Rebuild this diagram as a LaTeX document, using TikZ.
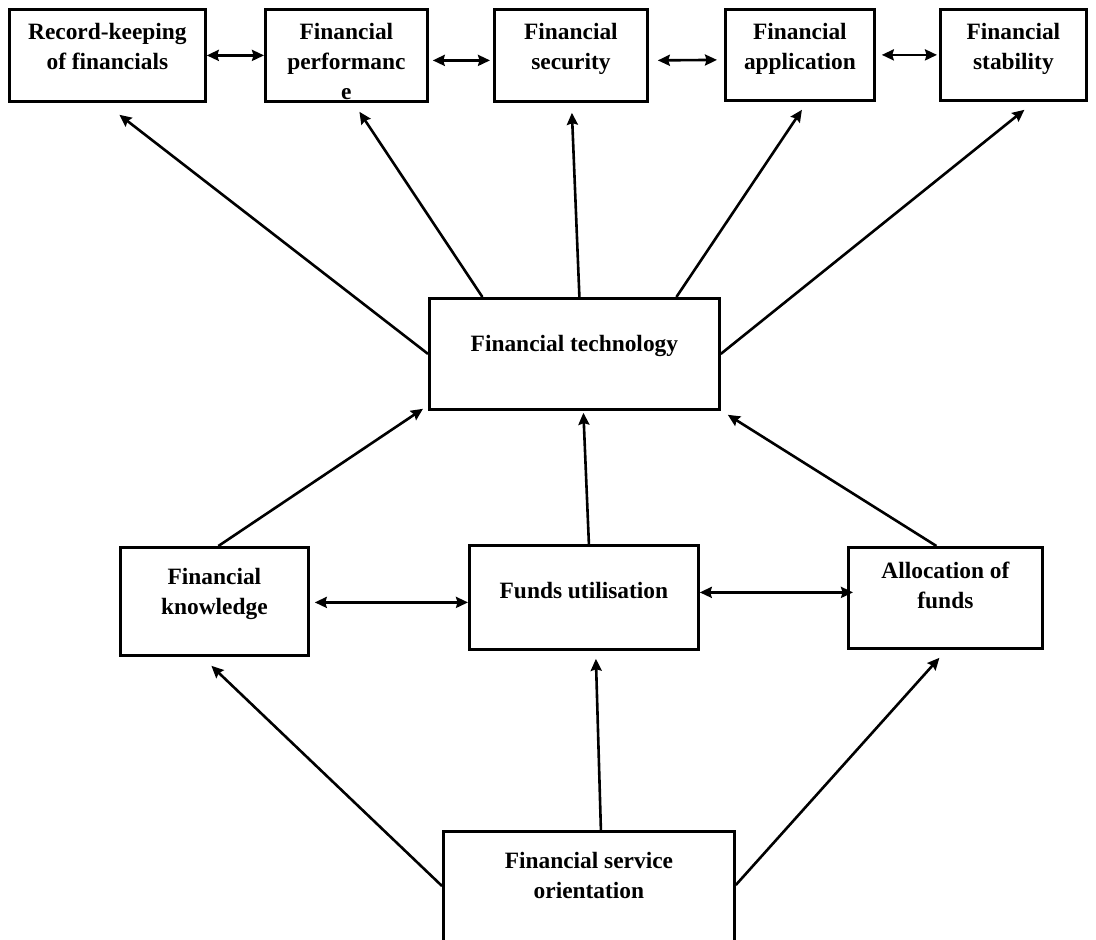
\documentclass[tikz,border=0pt]{standalone}
\usepackage{fontspec}
\setmainfont{Liberation Serif}
\usetikzlibrary{arrows.meta,calc}
\newcommand{\boxlabel}[4]{\parbox[c][#2][t]{#1}{\centering\rule{0pt}{#3}#4}}
\begin{document}
\begin{tikzpicture}[x=0.5pt,y=-0.5pt,
  >={Stealth[length=6pt,width=5.5pt,inset=0.8pt]},
  box/.style = {draw, line width=1.4pt, inner sep=0pt, anchor=north west,
    font=\bfseries\fontsize{11.7}{15}\selectfont},
  every path/.style = {line width=1.3pt}]
  \useasboundingbox (0,0) rectangle (1096,940);
  % top row
  \node[box] (rk) at (8,8) {\boxlabel{98pt}{46pt}{15pt}{Record-keeping\\of financials}};
  \node[box] (perf) at (264,8) {\boxlabel{81pt}{46pt}{15pt}{Financial\\performanc\\e}};
  \node[box] (sec) at (493,8) {\boxlabel{76.5pt}{46pt}{15pt}{Financial\\security}};
  \node[box] (app) at (724,8) {\boxlabel{74.5pt}{45.5pt}{15pt}{Financial\\application}};
  \node[box] (stab) at (939,8) {\boxlabel{73pt}{45.5pt}{15pt}{Financial\\stability}};
  % centre
  \node[box] (tech) at (428,297) {\boxlabel{145pt}{55.5pt}{26.5pt}{Financial technology}};
  % third row
  \node[box] (know) at (119,546) {\boxlabel{94pt}{54pt}{18.5pt}{Financial\\knowledge}};
  \node[box] (funds) at (468,544) {\boxlabel{114.5pt}{52pt}{26.5pt}{Funds utilisation}};
  \node[box] (alloc) at (847,546) {\boxlabel{97pt}{50.5pt}{15.5pt}{Allocation of\\funds}};
  % bottom
  \node[box] (serv) at (442,830) {\boxlabel{145.5pt}{65pt}{18.5pt}{Financial service\\orientation}};

  \draw[<->] (rk.east) -- (perf.west);
  \draw[<->] ($(perf.east)+(4,5)$) -- ($(sec.west)+(-3,5)$);
  \draw[<->] ($(sec.east)+(9,5)$) -- ($(app.west)+(-7,5)$);
  \draw[<->] ($(app.east)+(6,0)$) -- ($(stab.west)+(-2,0)$);

  \draw[->] (tech.west) -- ($(rk.south)+(12,12)$);
  \draw[->] ($(tech.north)+(-92,0)$) -- ($(perf.south)+(13,9)$);
  \draw[->] ($(tech.north)+(5,0)$) -- ($(sec.south)+(1,10)$);
  \draw[->] ($(tech.north)+(102,0)$) -- ($(app.south)+(2,8)$);
  \draw[->] (tech.east) -- ($(stab.south)+(11,8)$);

  \draw[->] ($(know.north)+(4,0)$) -- ($(tech.south west)+(-5,-2)$);
  \draw[->] ($(funds.north)+(5,0)$) -- ($(tech.south)+(9,2)$);
  \draw[->] ($(alloc.north)+(-9,0)$) -- ($(tech.south east)+(7,4)$);

  \draw[<->] ($(know.east)+(5,1)$) -- ($(funds.west)+(0,5)$);
  \draw[<->] ($(funds.east)+(0,-5)$) -- ($(alloc.west)+(6,-5.5)$);

  \draw[->] ($(serv.north west)+(0,56)$) -- ($(know.south)+(-3,9)$);
  \draw[->] ($(serv.north)+(12,0)$) -- ($(funds.south)+(12,8)$);
  \draw[->] ($(serv.north east)+(0,55)$) -- ($(alloc.south)+(-6,8)$);
\end{tikzpicture}
\end{document}
